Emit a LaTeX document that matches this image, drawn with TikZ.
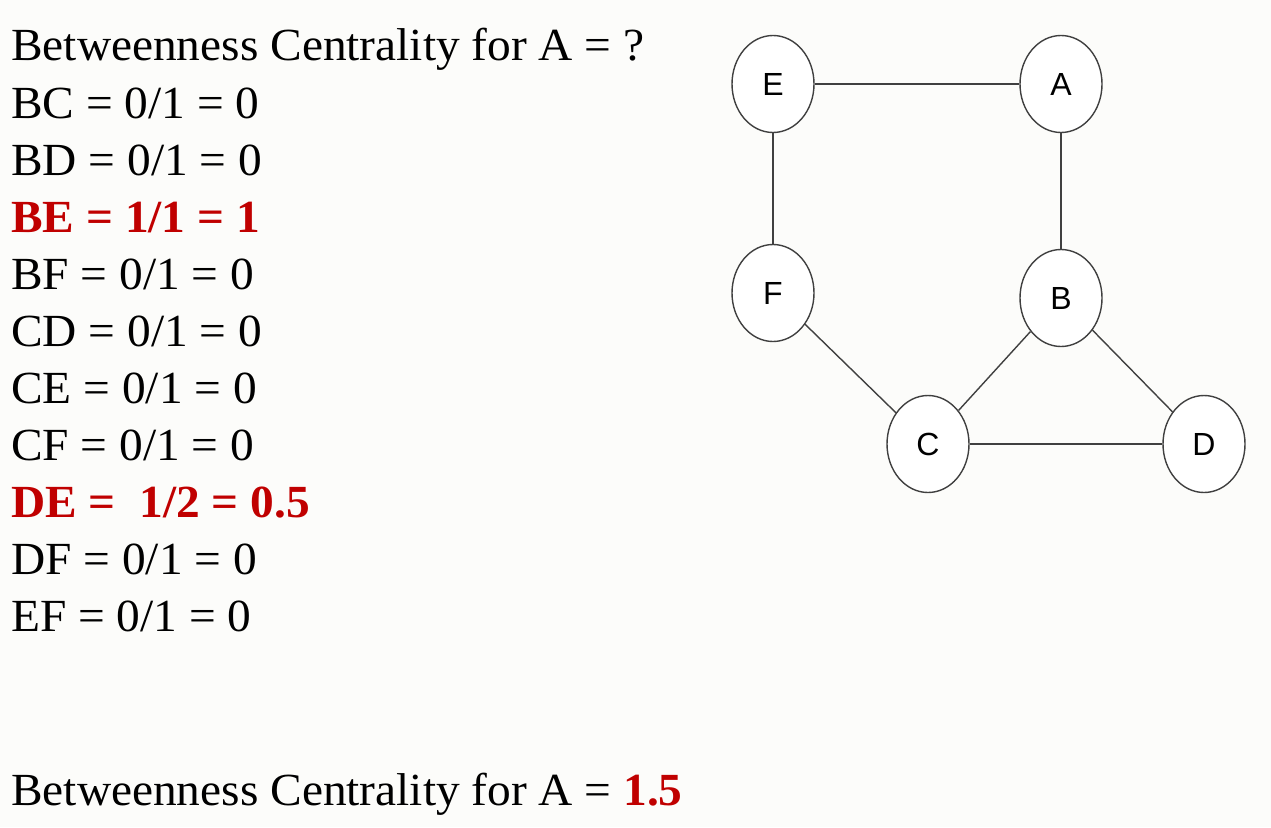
\documentclass[tikz,border=0pt]{standalone}
\usepackage{fontspec}
\setmainfont{Liberation Serif}
\newfontfamily\nodefont{Liberation Sans}
\usetikzlibrary{shapes.geometric}
\definecolor{bg}{RGB}{252,252,250}
\definecolor{hl}{RGB}{192,0,0}
\definecolor{ln}{RGB}{64,64,64}
\tikzset{
  vtx/.style={ellipse, draw=ln, line width=1.4pt, fill=white, minimum width=82pt, minimum height=97pt, inner sep=0pt, font=\nodefont\fontsize{32}{32}\selectfont},
  edge/.style={draw=ln, line width=1.4pt},
  txt/.style={anchor=base west, inner sep=0pt, xscale=1.03, font=\fontsize{46}{46}\selectfont},
  hot/.style={txt, text=hl, font=\fontsize{46}{46}\selectfont\bfseries}
}
\begin{document}
\begin{tikzpicture}[x=1pt,y=-1pt]
\fill[bg] (0,0) rectangle (1271,827);
\useasboundingbox (0,0) rectangle (1271,827);
\node[txt] (t0) at (11,60) {Betweenness Centrality for A = ?};
\node[txt] (t1) at (11,118) {BC = 0/1 = 0};
\node[txt] (t2) at (11,175) {BD = 0/1 = 0};
\node[hot] (t3) at (11,232) {BE = 1/1 = 1};
\node[txt] (t4) at (11,289) {BF = 0/1 = 0};
\node[txt] (t5) at (11,346) {CD = 0/1 = 0};
\node[txt] (t6) at (11,403) {CE = 0/1 = 0};
\node[txt] (t7) at (11,460) {CF = 0/1 = 0};
\node[hot] (t8) at (11,517) {DE =\ \ 1/2 = 0.5};
\node[txt] (t9) at (11,574) {DF = 0/1 = 0};
\node[txt] (t10) at (11,631) {EF = 0/1 = 0};
\node[txt] (t11) at (11,805) {Betweenness Centrality for A = \textcolor{hl}{\bfseries 1.5}};
\node[vtx] (E) at (773,84) {E};
\node[vtx] (A) at (1061,84) {A};
\node[vtx] (F) at (773,293) {F};
\node[vtx] (B) at (1061,298) {B};
\node[vtx] (C) at (928,444) {C};
\node[vtx] (D) at (1204,444) {D};
\draw[edge] (E) -- (A);
\draw[edge] (E) -- (F);
\draw[edge] (A) -- (B);
\draw[edge] (F) -- (C);
\draw[edge] (B) -- (C);
\draw[edge] (B) -- (D);
\draw[edge] (C) -- (D);
\end{tikzpicture}
\end{document}
